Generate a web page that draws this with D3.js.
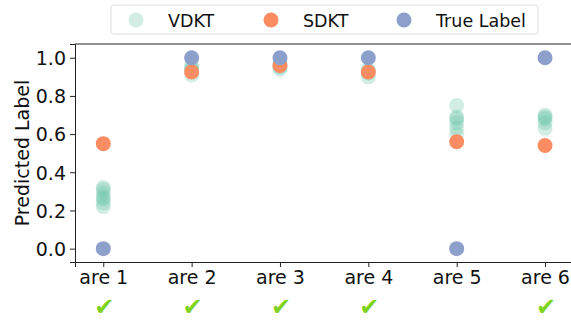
<!DOCTYPE html>
<html>
<head>
<meta charset="utf-8">
<script src="https://cdn.jsdelivr.net/npm/d3@7"></script>
<style>
  body { margin: 0; background: #fff; }
  svg, svg text { font-family: "DejaVu Sans", sans-serif; }
</style>
</head>
<body>
<div id="chart"></div>
<script>
const categorias = ["are 1", "are 2", "are 3", "are 4", "are 5", "are 6"];
const vdkt = [
  [0.22, 0.24, 0.26, 0.27, 0.29, 0.31, 0.32],
  [0.91, 0.93, 0.94, 0.95, 0.96],
  [0.94, 0.95, 0.96, 0.97],
  [0.90, 0.92, 0.93, 0.94],
  [0.60, 0.63, 0.66, 0.68, 0.69, 0.75],
  [0.63, 0.66, 0.68, 0.69, 0.70]
];
const sdkt = [0.55, 0.925, 0.96, 0.925, 0.56, 0.54];
const trueLabel = [0, 1, 1, 1, 0, 1];
const acertos = [true, true, true, true, false, true];
const yTicks = [0.0, 0.2, 0.4, 0.6, 0.8, 1.0];

const cores = { vdkt: "#66c2a5", sdkt: "#fc8d62", trueL: "#8da0cb" };

const width = 571, height = 322;
const margin = { top: 44, left: 75, bottom: 62 };

const svg = d3.select("#chart").append("svg")
  .attr("width", width).attr("height", height);

const x = d3.scaleLinear().domain([-0.32, 5.32]).range([margin.left, 573.3]);
const y = d3.scaleLinear().domain([-0.07, 1.072]).range([height - margin.bottom + 2, margin.top]);

// eixos
const eixoY = svg.append("g").attr("transform", `translate(${margin.left},0)`)
  .call(d3.axisLeft(y).tickValues(yTicks).tickFormat(d3.format(".1f")).tickSize(5).tickPadding(4));
const eixoX = svg.append("g").attr("transform", `translate(0,${y(-0.07)})`)
  .call(d3.axisBottom(x).tickValues(d3.range(6)).tickFormat(i => categorias[i]).tickSize(5).tickPadding(4));

[eixoY, eixoX].forEach(g => {
  g.attr("font-family", "DejaVu Sans, sans-serif");
  g.selectAll("text").style("font-size", "19px").attr("fill", "#111");
  g.selectAll("line").attr("stroke", "#222");
  g.select(".domain").attr("stroke", "#222");
});
eixoY.selectAll("text").attr("dy", "0.36em");

// borda superior
svg.append("line")
  .attr("x1", margin.left).attr("x2", 573.3)
  .attr("y1", y(1.072)).attr("y2", y(1.072))
  .attr("stroke", "#222");

svg.append("text")
  .attr("transform", `translate(29,${(y(1.072) + y(-0.07)) / 2}) rotate(-90)`)
  .attr("text-anchor", "middle")
  .style("font-size", "19px").attr("fill", "#111")
  .text("Predicted Label");

const r = 7.5;
const pontos = svg.append("g");

vdkt.forEach((vals, i) => {
  pontos.selectAll(null).data(vals).enter().append("circle")
    .attr("cx", x(i)).attr("cy", d => y(d)).attr("r", r)
    .attr("fill", cores.vdkt).attr("fill-opacity", 0.3);
});

pontos.selectAll(null).data(sdkt).enter().append("circle")
  .attr("cx", (d, i) => x(i)).attr("cy", d => y(d)).attr("r", r)
  .attr("fill", cores.sdkt);

pontos.selectAll(null).data(trueLabel).enter().append("circle")
  .attr("cx", (d, i) => x(i)).attr("cy", d => y(d)).attr("r", r)
  .attr("fill", cores.trueL);

// marcas de acerto
svg.selectAll(null).data(acertos.map((a, i) => ({ a, i })).filter(d => d.a)).enter()
  .append("text")
  .attr("x", d => x(d.i) + 1).attr("y", 315)
  .attr("text-anchor", "middle")
  .style("font-size", "24px")
  .attr("fill", "#7ed321")
  .text("✔");

// legenda
const legenda = svg.append("g");
legenda.append("rect")
  .attr("x", 111).attr("y", 5).attr("width", 427).attr("height", 29)
  .attr("rx", 3).attr("fill", "#fff").attr("stroke", "#ddd");

const itens = [
  { nome: "VDKT", cor: cores.vdkt, op: 0.3, cx: 136, tx: 168 },
  { nome: "SDKT", cor: cores.sdkt, op: 1, cx: 271, tx: 303 },
  { nome: "True Label", cor: cores.trueL, op: 1, cx: 404, tx: 436 }
];
itens.forEach(it => {
  legenda.append("circle").attr("cx", it.cx).attr("cy", 20).attr("r", r)
    .attr("fill", it.cor).attr("fill-opacity", it.op);
  legenda.append("text").attr("x", it.tx).attr("y", 26.5)
    .style("font-size", "17.5px").attr("fill", "#111").text(it.nome);
});
</script>
</body>
</html>
